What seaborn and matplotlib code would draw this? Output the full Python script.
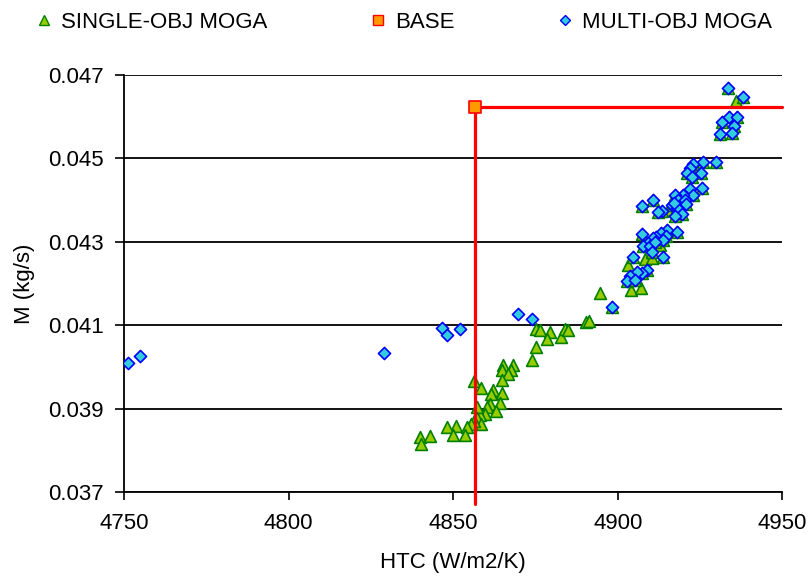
import numpy as np
import pandas as pd
import seaborn as sns
from matplotlib import pyplot as plt
from matplotlib.lines import Line2D

# points found only by the single-objective run
single_htc = [4936.0, 4915.4, 4908.4, 4910.5, 4903.0, 4912.8, 4903.9, 4907.0, 4894.7,
              4890.5, 4891.2, 4875.1, 4876.4, 4879.5, 4878.5, 4882.8, 4884.0, 4885.0,
              4875.1, 4874.1, 4865.2, 4868.3, 4867.7, 4864.9, 4866.6, 4864.7, 4856.3,
              4858.5, 4862.2, 4864.8, 4861.5, 4864.3, 4861.3, 4860.3, 4862.9, 4859.8,
              4858.1, 4857.1, 4857.3, 4858.6, 4856.4, 4855.5, 4854.1, 4850.8, 4848.2,
              4850.1, 4853.5, 4840.0, 4842.9, 4840.3]
single_m = [0.04638, 0.04376, 0.04259, 0.04262, 0.04244, 0.04292, 0.04184, 0.04188, 0.04176,
            0.04108, 0.04110, 0.04090, 0.04088, 0.04084, 0.04068, 0.04071, 0.04090, 0.04088,
            0.04048, 0.04017, 0.04004, 0.04004, 0.03993, 0.03992, 0.03984, 0.03968, 0.03967,
            0.03950, 0.03945, 0.03938, 0.03936, 0.03914, 0.03911, 0.03905, 0.03895, 0.03888,
            0.03884, 0.03903, 0.03878, 0.03864, 0.03870, 0.03864, 0.03857, 0.03858, 0.03857,
            0.03837, 0.03837, 0.03831, 0.03834, 0.03816]

# points found by both runs (triangle hidden under the diamond)
shared_htc = [4933.6, 4938.0, 4931.6, 4933.9, 4936.2, 4935.2, 4934.7, 4931.1, 4930.0,
              4926.0, 4923.0, 4922.1, 4925.4, 4921.0, 4922.5, 4922.0, 4925.6, 4922.8,
              4919.7, 4917.4, 4918.2, 4920.3, 4916.4, 4918.0, 4920.8, 4919.4, 4917.5,
              4910.8, 4907.3, 4913.5, 4912.1, 4917.1, 4918.0, 4915.0, 4913.3, 4911.7,
              4914.7, 4910.7, 4913.9, 4907.3, 4909.1, 4907.8, 4909.8, 4911.4, 4910.4,
              4904.5, 4913.7, 4909.0, 4907.3, 4905.8, 4903.8, 4902.8, 4905.3, 4898.2]
shared_m = [0.04668, 0.04646, 0.04588, 0.04600, 0.04600, 0.04578, 0.04561, 0.04558, 0.04492,
            0.04492, 0.04486, 0.04476, 0.04465, 0.04464, 0.04456, 0.04427, 0.04430, 0.04412,
            0.04411, 0.04413, 0.04401, 0.04399, 0.04388, 0.04382, 0.04390, 0.04367, 0.04362,
            0.04399, 0.04385, 0.04374, 0.04372, 0.04393, 0.04324, 0.04328, 0.04320, 0.04312,
            0.04315, 0.04310, 0.04304, 0.04319, 0.04298, 0.04289, 0.04289, 0.04300, 0.04276,
            0.04263, 0.04263, 0.04233, 0.04224, 0.04228, 0.04217, 0.04206, 0.04209, 0.04143]

# points found only by the multi-objective run
multi_htc = [4751.3, 4754.8, 4829.0, 4846.6, 4848.2, 4852.0, 4869.7, 4874.1]
multi_m = [0.04009, 0.04025, 0.04033, 0.04093, 0.04077, 0.04092, 0.04128, 0.04116]

base_htc = 4856.6
base_m = 0.04623

x_ticks = [4750, 4800, 4850, 4900, 4950]
y_ticks = [0.037, 0.039, 0.041, 0.043, 0.045, 0.047]

single = pd.DataFrame({'HTC': single_htc + shared_htc, 'M': single_m + shared_m})
multi = pd.DataFrame({'HTC': multi_htc + shared_htc, 'M': multi_m + shared_m})

sns.set_style("white")
plt.rcParams['font.family'] = ['Liberation Sans', 'DejaVu Sans']
plt.rcParams['text.color'] = 'black'
plt.rcParams['axes.labelcolor'] = 'black'
plt.rcParams['xtick.color'] = 'black'
plt.rcParams['ytick.color'] = 'black'

fig = plt.figure(figsize=(8.11, 5.83), dpi=100)
ax = fig.add_axes([0.1529, 0.1561, 0.8117, 0.7153])

sns.scatterplot(data=single, x='HTC', y='M', marker='^', s=72, color='#99CC00',
                edgecolor='#008000', linewidth=1.2, ax=ax, zorder=2)
sns.scatterplot(data=multi, x='HTC', y='M', marker='D', s=38, color='#33CCDD',
                edgecolor='#0000FF', linewidth=1.2, ax=ax, zorder=3)

# base design with its reference lines
ax.plot([base_htc, x_ticks[-1]], [base_m, base_m], color='#FF0000', lw=2.3, zorder=4, clip_on=False)
ax.plot([base_htc, base_htc], [base_m, 0.03672], color='#FF0000', lw=2.3, zorder=4, clip_on=False)
ax.scatter([base_htc], [base_m], marker='s', s=75, color='#FF9900', edgecolor='#FF0000',
           linewidth=1.2, zorder=5)

ax.set_xlim(x_ticks[0], x_ticks[-1])
ax.set_ylim(y_ticks[0], y_ticks[-1])
ax.set_xticks(x_ticks)
ax.set_yticks(y_ticks)
ax.set_xticklabels([str(v) for v in x_ticks])
ax.set_yticklabels(['{:.3f}'.format(v) for v in y_ticks])
ax.grid(axis='y', color='black', lw=1.3)
ax.set_axisbelow(True)
for side in ['top', 'right']:
    ax.spines[side].set_visible(False)
for side in ['left', 'bottom']:
    ax.spines[side].set_color('black')
    ax.spines[side].set_linewidth(1.3)
ax.tick_params(axis='y', direction='out', length=6.5, width=1.2, color='black',
               labelcolor='black', labelsize=16, pad=8, left=True)
ax.tick_params(axis='x', direction='out', length=6, width=1.2, color='black',
               labelcolor='black', labelsize=16, pad=9, bottom=True)

ax.set_xlabel('HTC (W/m2/K)', fontsize=16, color='black')
ax.set_ylabel('M (kg/s)', fontsize=16, color='black')
ax.xaxis.set_label_coords(0.5, -0.145)
ax.yaxis.set_label_coords(-0.135, 0.5)

handles = [
    Line2D([], [], ls='', marker='^', ms=7, mfc='#99CC00', mec='#008000', mew=1.0),
    Line2D([], [], ls='', marker='s', ms=7, mfc='#FF9900', mec='#FF0000', mew=1.0),
    Line2D([], [], ls='', marker='D', ms=5, mfc='#33CCDD', mec='#0000FF', mew=1.0),
]
fig.legend(handles, ['SINGLE-OBJ MOGA', 'BASE', 'MULTI-OBJ MOGA'], loc='center left',
           bbox_to_anchor=(37.3 / 811, 1 - 22 / 583), ncol=3, frameon=False, fontsize=16,
           borderpad=0, borderaxespad=0, handlelength=0.6, handletextpad=0.45,
           columnspacing=4.7, labelcolor='black')

plt.savefig('out.png', dpi=100)
